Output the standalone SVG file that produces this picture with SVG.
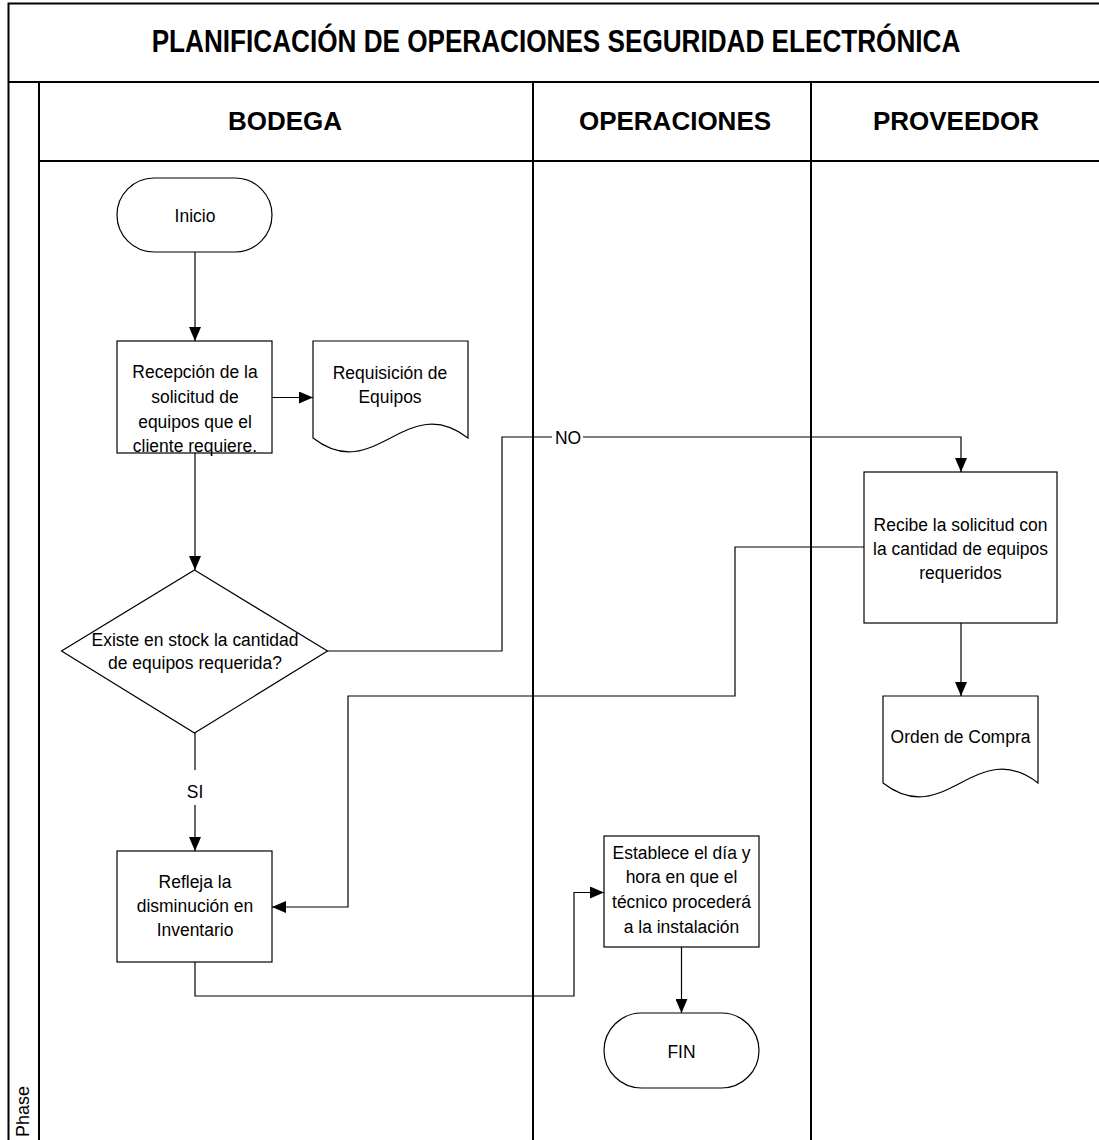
<svg xmlns="http://www.w3.org/2000/svg" width="1099" height="1140" viewBox="0 0 1099 1140">
  <style>
    .frame { fill: none; stroke: #000; stroke-width: 2; }
    .shape { fill: #fff; stroke: #000; stroke-width: 1.2; }
    .conn { fill: none; stroke: #000; stroke-width: 1.2; }
    .title { font-family: "Liberation Sans", Arial, sans-serif; font-weight: bold; font-size: 32px; text-anchor: middle; fill: #000; }
    .lane { font-family: "Liberation Sans", Arial, sans-serif; font-weight: bold; font-size: 26px; text-anchor: middle; fill: #000; }
    .txt { font-family: "Liberation Sans", Arial, sans-serif; font-size: 19px; text-anchor: middle; fill: #000; }
    .phase { font-family: "Liberation Sans", Arial, sans-serif; font-size: 18px; fill: #000; }
  </style>
  <defs>
    <marker id="arrow" markerUnits="userSpaceOnUse" markerWidth="14" markerHeight="12" refX="14" refY="6" orient="auto">
      <path d="M0,0 L14,6 L0,12 Z" fill="#000"/>
    </marker>
  </defs>

  <rect width="1099" height="1140" fill="#fff"/>

  <!-- swimlane frame -->
  <g id="frame">
    <path class="frame" d="M8.5,1140 V3.5 H1099"/>
    <path class="frame" d="M8.5,82 H1099"/>
    <path class="frame" d="M39,82 V1140"/>
    <path class="frame" d="M39,161 H1099"/>
    <path class="frame" d="M533,82 V1140"/>
    <path class="frame" d="M811,82 V1140"/>
    <!-- condensed title -->
    <g transform="translate(556,52) scale(0.817,1)">
      <text class="title" x="0" y="0">PLANIFICACIÓN DE OPERACIONES SEGURIDAD ELECTRÓNICA</text>
    </g>
    <text class="lane" x="285" y="130">BODEGA</text>
    <text class="lane" x="675" y="130">OPERACIONES</text>
    <text class="lane" x="956" y="130">PROVEEDOR</text>
    <text class="phase" transform="translate(29,1137) rotate(-90)">Phase</text>
  </g>

  <!-- connectors -->
  <g id="connectors">
    <path class="conn" d="M195,252 V341" marker-end="url(#arrow)"/>
    <path class="conn" d="M272,397.5 H313" marker-end="url(#arrow)"/>
    <path class="conn" d="M195,453 V570" marker-end="url(#arrow)"/>
    <path class="conn" d="M327,651 H502 V437 H961 V472" marker-end="url(#arrow)"/>
    <rect x="552" y="427" width="31" height="20" fill="#fff"/>
    <g transform="translate(568,0) scale(0.92,1)"><text class="txt" x="0" y="444">NO</text></g>
    <path class="conn" d="M195,733 V770"/>
    <path class="conn" d="M195,805 V851" marker-end="url(#arrow)"/>
    <g transform="translate(195,0) scale(0.92,1)"><text class="txt" x="0" y="798">SI</text></g>
    <path class="conn" d="M961,623 V696" marker-end="url(#arrow)"/>
    <path class="conn" d="M864,547 H735 V696 H348 V907 H272" marker-end="url(#arrow)"/>
    <path class="conn" d="M195,962 V996 H574 V892.5 H604" marker-end="url(#arrow)"/>
    <path class="conn" d="M681.5,947 V1013" marker-end="url(#arrow)"/>
  </g>

  <!-- nodes -->
  <g id="inicio">
    <rect class="shape" x="117" y="178" width="155" height="74" rx="37" ry="37"/>
    <g transform="translate(195,0) scale(0.92,1)">
      <text class="txt" x="0" y="222">Inicio</text>
    </g>
  </g>

  <g id="recepcion">
    <rect class="shape" x="117" y="341" width="155" height="112"/>
    <g transform="translate(195,0) scale(0.92,1)">
      <text class="txt" x="0" y="378">Recepción de la</text>
      <text class="txt" x="0" y="403">solicitud de</text>
      <text class="txt" x="0" y="428">equipos que el</text>
      <text class="txt" x="0" y="452">cliente requiere.</text>
    </g>
  </g>

  <g id="requisicion">
    <path class="shape" d="M313,341 H468 V438 C406,390 375,486 313,438 Z"/>
    <g transform="translate(390,0) scale(0.92,1)">
      <text class="txt" x="0" y="379">Requisición de</text>
      <text class="txt" x="0" y="403">Equipos</text>
    </g>
  </g>

  <g id="decision">
    <path class="shape" d="M194.5,570 L327.5,651 L194.5,733 L61.5,651 Z"/>
    <g transform="translate(195,0) scale(0.92,1)">
      <text class="txt" x="0" y="646">Existe en stock la cantidad</text>
      <text class="txt" x="0" y="669">de equipos requerida?</text>
    </g>
  </g>

  <g id="recibe">
    <rect class="shape" x="864" y="472" width="193" height="151"/>
    <g transform="translate(960.5,0) scale(0.92,1)">
      <text class="txt" x="0" y="531">Recibe la solicitud con</text>
      <text class="txt" x="0" y="555">la cantidad de equipos</text>
      <text class="txt" x="0" y="579">requeridos</text>
    </g>
  </g>

  <g id="orden">
    <path class="shape" d="M883,696 H1038 V783 C976,735 945,831 883,783 Z"/>
    <g transform="translate(960.5,0) scale(0.92,1)">
      <text class="txt" x="0" y="743">Orden de Compra</text>
    </g>
  </g>

  <g id="refleja">
    <rect class="shape" x="117" y="851" width="155" height="111"/>
    <g transform="translate(195,0) scale(0.92,1)">
      <text class="txt" x="0" y="888">Refleja la</text>
      <text class="txt" x="0" y="912">disminución en</text>
      <text class="txt" x="0" y="936">Inventario</text>
    </g>
  </g>

  <g id="establece">
    <rect class="shape" x="604" y="836" width="155" height="111"/>
    <g transform="translate(681.5,0) scale(0.92,1)">
      <text class="txt" x="0" y="859">Establece el día y</text>
      <text class="txt" x="0" y="883">hora en que el</text>
      <text class="txt" x="0" y="908">técnico procederá</text>
      <text class="txt" x="0" y="933">a la instalación</text>
    </g>
  </g>

  <g id="fin">
    <rect class="shape" x="604" y="1013" width="155" height="75" rx="37.5" ry="37.5"/>
    <g transform="translate(681.5,0) scale(0.92,1)">
      <text class="txt" x="0" y="1058">FIN</text>
    </g>
  </g>
</svg>
